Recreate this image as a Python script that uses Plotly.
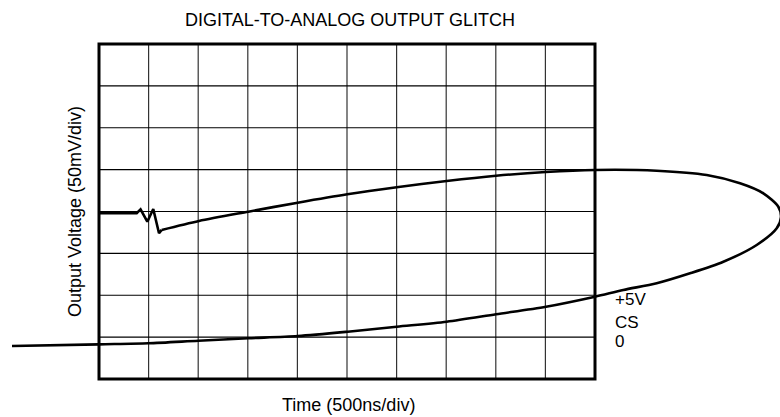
import plotly.graph_objects as go

# ---- data (time in ns, output voltage in mV) ----
# flat level and the glitch right after the CS edge
glitch_t = [0, 380, 419, 487, 547, 605, 632]
glitch_v = [198, 198, 202.6, 187.8, 203, 174, 178]

# smooth settling trace (continues from the glitch, loops past the screen and returns)
trace_t = [632, 1008, 1505, 2003, 2503, 3001, 3505, 4002, 4503, 5000, 5622, 6126,
           6462, 6697, 6848, 6875, 6832, 6630, 6294, 5958, 5622, 5285, 5000, 4506,
           4002, 3505, 3001, 2507, 2003, 1505, 1001, 497, 0, -877]
trace_v = [178, 188.7, 199.8, 210.5, 220.5, 228.9, 236.4, 242.7, 247.2, 249.6, 248.7, 243.6,
           233.7, 221.7, 205.7, 193.4, 179.9, 160, 140, 126.2, 114.3, 106.3, 98.3, 86.3,
           77.3, 68.4, 62.4, 56.5, 51.3, 48.6, 45.7, 42.6, 41.4, 39.4]

time_range = [0, 5000]        # 10 div x 500 ns
volt_range = [0, 400]         # 8 div x 50 mV
time_div = 500
volt_div = 50

labels = ["+5V", "CS", "0"]
label_t = [5181, 5181, 5181]
label_v = [95.5, 68, 44.2]

title = "DIGITAL-TO-ANALOG OUTPUT GLITCH"
x_title = "Time (500ns/div)"
y_title = "Output Voltage (50mV/div)"

# ---- layout geometry ----
W, H = 780, 417
gx0, gx1 = 99, 595      # grid left/right px
gy0, gy1 = 44, 379      # grid top/bottom px

FONT = "Arial, Liberation Sans, sans-serif"

fig = go.Figure()

fig.add_trace(go.Scatter(
    x=glitch_t, y=glitch_v, mode="lines",
    line=dict(color="black", width=2.6, shape="linear"), hoverinfo="skip", showlegend=False))
fig.add_trace(go.Scatter(
    x=trace_t, y=trace_v, mode="lines",
    line=dict(color="black", width=2.6, shape="spline", smoothing=0.8),
    hoverinfo="skip", showlegend=False))

# full-figure axes whose scale puts the 10x8 graticule at the reference position
px_per_t = (gx1 - gx0) / (time_range[1] - time_range[0])
px_per_v = (gy1 - gy0) / (volt_range[1] - volt_range[0])
x_full = [time_range[0] - gx0 / px_per_t, time_range[0] + (W - gx0) / px_per_t]
y_full = [volt_range[0] - (H - gy1) / px_per_v, volt_range[0] + gy1 / px_per_v]

# graticule drawn in data coordinates
shapes = []
n_t = int((time_range[1] - time_range[0]) / time_div)
n_v = int((volt_range[1] - volt_range[0]) / volt_div)
for i in range(1, n_t):
    t = time_range[0] + i * time_div
    shapes.append(dict(type="line", xref="x", yref="y", x0=t, x1=t,
                       y0=volt_range[0], y1=volt_range[1], layer="below",
                       line=dict(color="#333333", width=1.2)))
for j in range(1, n_v):
    v = volt_range[0] + j * volt_div
    shapes.append(dict(type="line", xref="x", yref="y", x0=time_range[0], x1=time_range[1],
                       y0=v, y1=v, layer="below",
                       line=dict(color="black", width=1.2)))
shapes.append(dict(type="rect", xref="x", yref="y", x0=time_range[0], x1=time_range[1],
                   y0=volt_range[0], y1=volt_range[1], layer="below",
                   line=dict(color="black", width=3)))

fig.update_layout(
    width=W, height=H,
    margin=dict(l=0, r=0, t=0, b=0),
    paper_bgcolor="white",
    plot_bgcolor="white",
    font=dict(family=FONT, color="black", size=18),
    xaxis=dict(domain=[0, 1], range=x_full, visible=False),
    yaxis=dict(domain=[0, 1], range=y_full, visible=False),
    shapes=shapes,
)

annotations = [
    dict(text=title, xref="paper", yref="paper", x=350 / W, y=1 - 20 / H,
         xanchor="center", yanchor="middle", showarrow=False, font=dict(size=18)),
    dict(text=x_title, xref="paper", yref="paper", x=348.5 / W, y=1 - 405 / H,
         xanchor="center", yanchor="middle", showarrow=False, font=dict(size=18)),
    dict(text=y_title, xref="paper", yref="paper", x=75 / W, y=1 - 212 / H,
         xanchor="center", yanchor="middle", showarrow=False, textangle=-90,
         font=dict(size=18)),
]
for lab, t, v in zip(labels, label_t, label_v):
    annotations.append(dict(text=lab, xref="x", yref="y", x=t, y=v, xanchor="left",
                            yanchor="middle", showarrow=False, font=dict(size=17)))
fig.update_layout(annotations=annotations)

fig.write_html(
    "out.html",
    config={"displayModeBar": False, "staticPlot": True},
    post_script="document.body.style.margin='0';document.body.style.overflow='hidden';",
)
